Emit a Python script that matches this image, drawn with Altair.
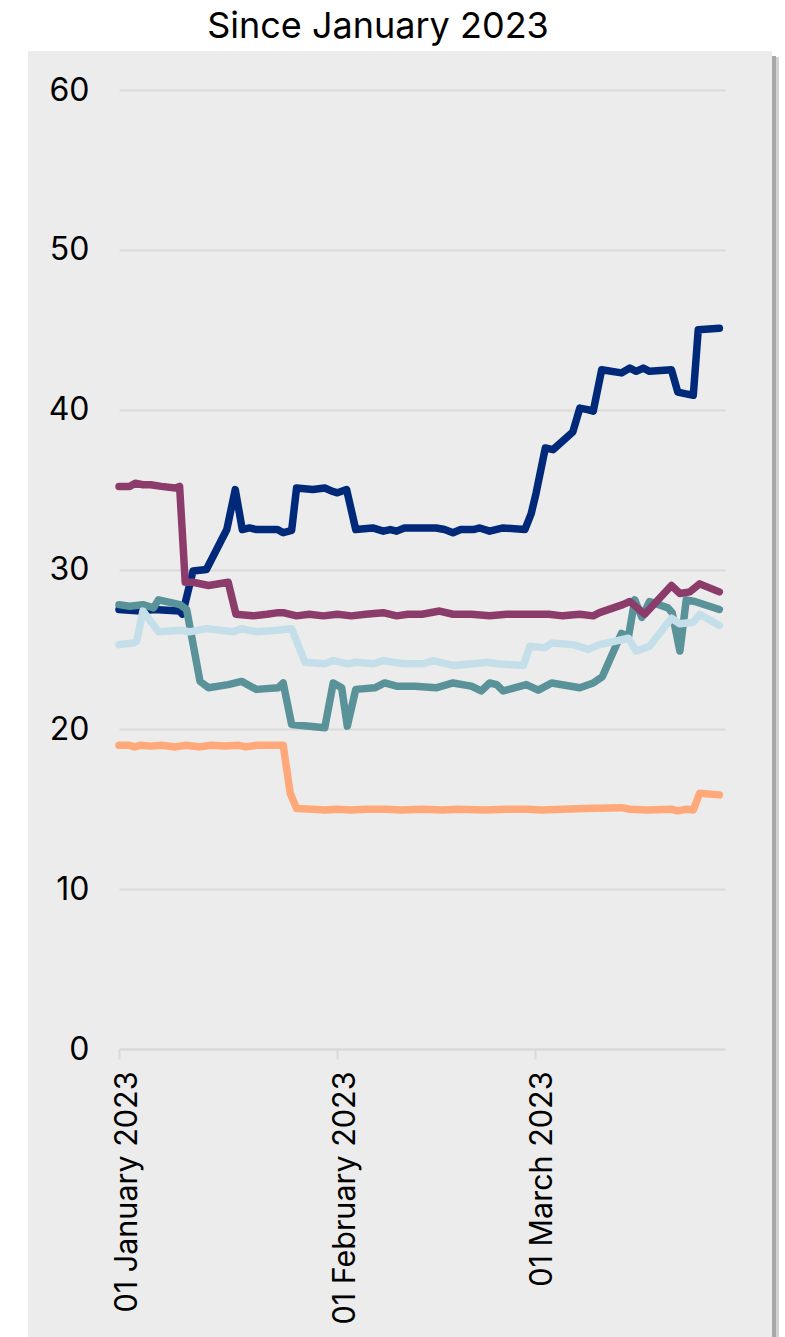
import altair as alt
import pandas as pd

START = "2023-01-01"

# Day offsets from 1 January 2023 and values
navy_days = [0, 3, 5, 8.6, 9.0, 10.5, 12.4, 15.3, 16.5, 17.5, 18.5, 19.5, 22.5, 23.3, 24.5,
             25.2, 27.5, 29.2, 30.2, 31.0, 32.3, 33.6, 36, 37.5, 38.5, 39.4, 40.5, 45, 46.2, 47.4,
             48.5, 50.3, 51.2, 52.6, 54.5, 57.6, 58.5, 59.2, 60.5, 61.6, 64.4, 65.4, 66.5, 67.3,
             68.5, 71.3, 72.5, 73.4, 74.4, 75.3, 78.4, 79.3, 80.3, 81.5, 82.2, 85.2]
navy_vals = [27.5, 27.4, 27.5, 27.4, 27.2, 29.9, 30.0, 32.5, 35.0, 32.5, 32.6, 32.5, 32.5, 32.3, 32.45,
             35.1, 35.0, 35.1, 34.9, 34.8, 35.0, 32.5, 32.6, 32.4, 32.5, 32.4, 32.6, 32.6, 32.5, 32.3,
             32.5, 32.5, 32.6, 32.4, 32.6, 32.5, 33.5, 34.8, 37.6, 37.5, 38.6, 40.1, 40.0, 39.9,
             42.5, 42.3, 42.6, 42.4, 42.6, 42.4, 42.5, 41.1, 41.0, 40.9, 45.0, 45.1]

plum_days = [0, 1.5, 2.3, 3.4, 4.5, 6, 8.0, 8.6, 9.4, 10.5, 12.7, 15.5, 16.6, 19, 21, 22.6, 23.3,
             25.2, 27, 29, 31, 33, 35, 37.5, 39.4, 41, 43, 45.5, 47.4, 50, 52.6, 55, 57, 59, 61,
             63, 65.4, 67.3, 68.2, 71.5, 72.5, 74.6, 78.4, 79.6, 81, 82.4, 85.2]
plum_vals = [35.2, 35.2, 35.4, 35.3, 35.3, 35.2, 35.1, 35.2, 29.2, 29.2, 29.0, 29.2, 27.2, 27.1, 27.2,
             27.3, 27.3, 27.1, 27.2, 27.1, 27.2, 27.1, 27.2, 27.3, 27.1, 27.2, 27.2, 27.4, 27.2, 27.2,
             27.1, 27.2, 27.2, 27.2, 27.2, 27.1, 27.2, 27.1, 27.3, 27.8, 28.0, 27.2, 29.0, 28.5, 28.6,
             29.1, 28.6]

teal_days = [0, 1.5, 3.4, 4.9, 5.6, 8.65, 9.6, 11.5, 12.7, 15.5, 17.4, 19.5, 22.6, 23.3, 24.5,
             29.2, 30.4, 31.6, 32.4, 33.6, 36.3, 37.7, 39.4, 42, 45, 47.4, 50, 51.4, 52.6, 53.6,
             54.5, 57.8, 59.5, 61.4, 65.4, 67.3, 68.6, 71.3, 72.3, 73.2, 74.2, 75.3, 77.9, 78.5,
             79.6, 80.5, 81.7, 85.2]
teal_vals = [27.8, 27.7, 27.8, 27.6, 28.1, 27.8, 27.5, 23.0, 22.6, 22.8, 23.0, 22.5, 22.6, 22.9, 20.3,
             20.1, 22.9, 22.6, 20.2, 22.5, 22.6, 22.9, 22.7, 22.7, 22.6, 22.9, 22.7, 22.4, 22.9, 22.8,
             22.4, 22.8, 22.45, 22.9, 22.6, 22.9, 23.3, 26.0, 25.8, 28.1, 27.0, 28.0, 27.6, 27.3,
             24.9, 28.1, 28.0, 27.5]

light_days = [0, 2, 2.5, 3.4, 5.6, 8.9, 10, 12.4, 16.2, 17.4, 19.5, 22.6, 24.5, 26.4, 29.2, 30.4,
              32.5, 33.6, 36.1, 37.5, 40.4, 43.2, 44.6, 47.4, 50.3, 52.4, 53.6, 57.4, 58.3, 60.4,
              61.4, 64.4, 66.6, 68.2, 72.3, 73.4, 75.3, 78.4, 79.6, 81.5, 82.4, 85.2]
light_vals = [25.3, 25.4, 25.5, 27.4, 26.1, 26.2, 26.1, 26.3, 26.1, 26.3, 26.1, 26.2, 26.3, 24.2, 24.1,
              24.3, 24.1, 24.2, 24.1, 24.3, 24.1, 24.1, 24.3, 24.0, 24.1, 24.2, 24.1, 24.0, 25.2, 25.1,
              25.4, 25.3, 25.0, 25.3, 25.7, 24.9, 25.2, 26.95, 26.6, 26.7, 27.2, 26.5]

salmon_days = [0, 1.5, 2.2, 3, 4.5, 6, 8, 9.5, 11.5, 13, 15, 17, 18, 19.5, 23.3, 24.3, 25.2, 27.5,
               29.2, 31, 33, 35, 38, 40, 43, 46, 48, 52, 55, 58, 60, 63, 66, 71.3, 72.5, 75, 78.4,
               79.3, 80.5, 81.5, 82.4, 85.2]
salmon_vals = [19.0, 19.0, 18.9, 19.0, 18.95, 19.0, 18.9, 19.0, 18.9, 19.0, 18.95, 19.0, 18.9, 19.0,
               19.0, 16.0, 15.05, 15.0, 14.95, 15.0, 14.95, 15.0, 15.0, 14.95, 15.0, 14.95, 15.0,
               14.95, 15.0, 15.0, 14.95, 15.0, 15.05, 15.1, 15.0, 14.95, 15.0, 14.9, 15.0, 14.95,
               16.0, 15.9]

# drawing order: bottom to top
series = [
    ("navy", navy_days, navy_vals, "#00297A"),
    ("teal", teal_days, teal_vals, "#5A9299"),
    ("plum", plum_days, plum_vals, "#8C3C6B"),
    ("light blue", light_days, light_vals, "#C5DFEA"),
    ("salmon", salmon_days, salmon_vals, "#FFA97A"),
]

title_text = "Since January 2023"
y_ticks = [0, 10, 20, 30, 40, 50, 60]
x_ticks = [alt.DateTime(year=2023, month=1, date=1),
           alt.DateTime(year=2023, month=2, date=1),
           alt.DateTime(year=2023, month=3, date=1)]
x_domain = [alt.DateTime(year=2023, month=1, date=1),
            alt.DateTime(year=2023, month=3, date=28)]

FONT = "Inter"
GRID = "#d9d9d9"
PANEL = "#ececec"

x_enc = alt.X("date:T",
              scale=alt.Scale(domain=x_domain),
              axis=alt.Axis(values=x_ticks, format="%d %B %Y", labelAngle=270,
                            grid=False, domainColor=GRID, domainWidth=2,
                            tickColor=GRID, tickWidth=2, tickSize=10,
                            labelPadding=12, labelFontSize=30.5, labelFont=FONT,
                            labelOffset=8, labelLimit=600, labelColor="black",
                            title=None))
y_enc = alt.Y("value:Q",
              scale=alt.Scale(domain=[0, 60], nice=False),
              axis=alt.Axis(values=y_ticks, grid=True, gridColor=GRID, gridWidth=2,
                            domain=False, ticks=False, labelPadding=30,
                            labelFontSize=32, labelFont=FONT, labelColor="black",
                            title=None))

one = pd.DataFrame({"k": [0]})
# white margins around the grey panel (the canvas background is the panel colour)
white_top = alt.Chart(one).mark_rect(color="white").encode(
    x=alt.value(-119), x2=alt.value(666), y=alt.value(-90), y2=alt.value(-39))
white_left = alt.Chart(one).mark_rect(color="white").encode(
    x=alt.value(-119), x2=alt.value(-91), y=alt.value(-90), y2=alt.value(1247))
white_right = alt.Chart(one).mark_rect(color="white").encode(
    x=alt.value(653), x2=alt.value(666), y=alt.value(-90), y2=alt.value(1247))
shadow1 = alt.Chart(one).mark_rect(color="#a9a9a9").encode(
    x=alt.value(653), x2=alt.value(657), y=alt.value(-34), y2=alt.value(1247))
shadow2 = alt.Chart(one).mark_rect(color="#d2d2d2").encode(
    x=alt.value(657), x2=alt.value(660), y=alt.value(-33), y2=alt.value(1247))
title = alt.Chart(one).mark_text(text=title_text, fontSize=36, font=FONT,
                                 color="black", align="center",
                                 baseline="alphabetic").encode(
    x=alt.value(259), y=alt.value(-52))

layers = [white_top, white_left, white_right, shadow1, shadow2]
for name, days, vals, col in series:
    assert len(days) == len(vals), name
    df = pd.DataFrame({
        "date": [pd.Timestamp(START) + pd.to_timedelta(d, unit="D") for d in days],
        "value": vals,
    })
    layers.append(
        alt.Chart(df).mark_line(color=col, strokeWidth=7.5, strokeCap="round",
                                strokeJoin="round").encode(x=x_enc, y=y_enc)
    )
layers.append(title)

chart = alt.layer(*layers).properties(
    width=606, height=959,
    background=PANEL,
    autosize=alt.AutoSizeParams(type="none"),
    padding={"left": 119, "top": 90, "right": 60, "bottom": 288},
).configure_view(stroke="transparent", strokeWidth=0)

chart.save("out.html", embed_options={"renderer": "svg", "actions": False})
